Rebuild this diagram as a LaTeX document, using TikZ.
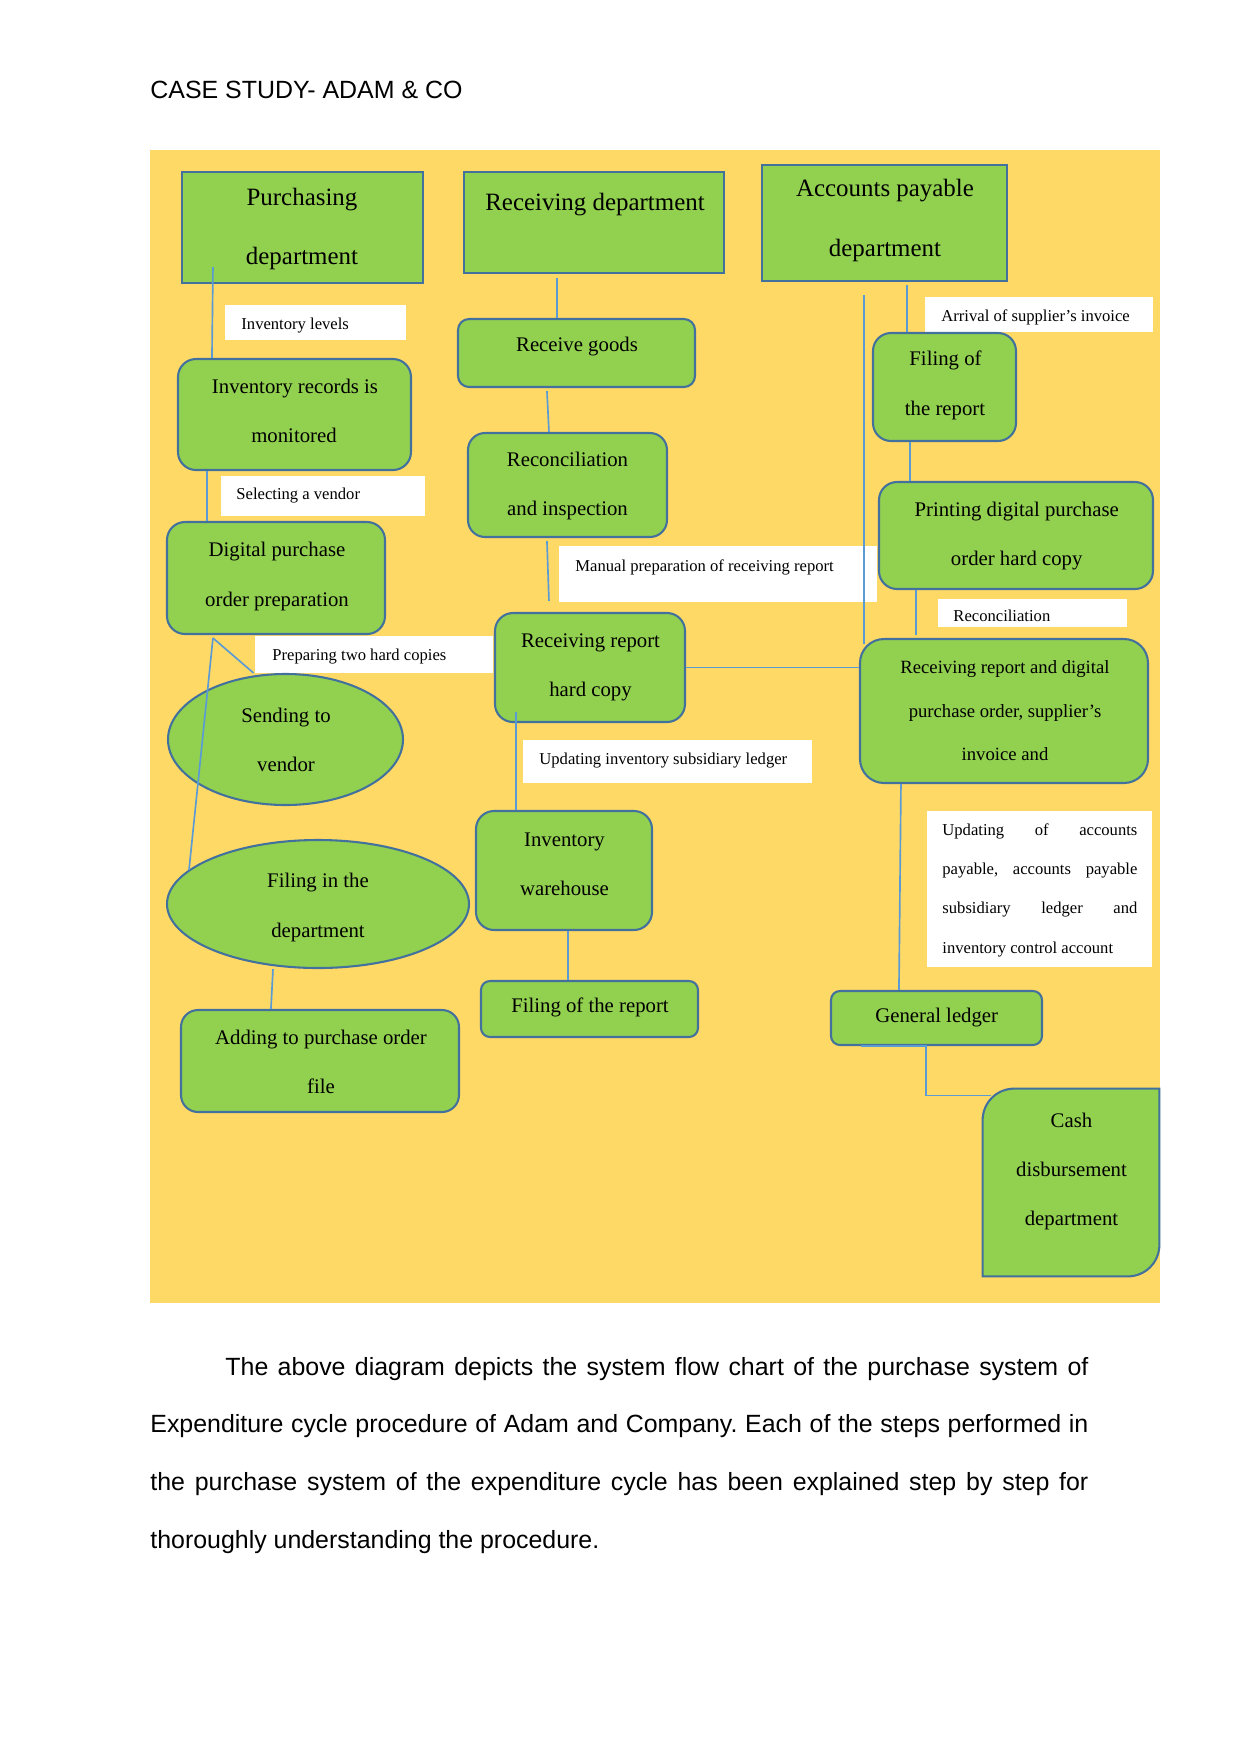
\documentclass[tikz,border=0pt]{standalone}
\usepackage{fontspec}
\setmainfont{Liberation Serif}
\newfontfamily\arialf{Liberation Sans}
\usetikzlibrary{fit,calc,shapes.geometric}
\newlength{\PXu}\setlength{\PXu}{0.4815pt}
\definecolor{bgyellow}{HTML}{FFD966}
\definecolor{boxgreen}{HTML}{92D050}
\definecolor{boxline}{HTML}{41719C}
\definecolor{connline}{HTML}{5B9BD5}
\frenchspacing
\begin{document}
\begin{tikzpicture}[x=0.4815pt,y=-0.4815pt,
  box/.style={draw=boxline,line width=1pt,fill=boxgreen,inner sep=0pt},
  rbox/.style={box,rounded corners=#1},
  ebox/.style={box,ellipse},
  lab/.style={fill=white,inner sep=0pt},
  conn/.style={draw=connline,line width=0.8pt},
  tA/.style={font=\fontsize{12}{14}\selectfont,inner sep=0pt,anchor=base},
  tB/.style={font=\fontsize{10}{12}\selectfont,inner sep=0pt,anchor=base},
  tC/.style={font=\fontsize{9}{11}\selectfont,inner sep=0pt,anchor=base},
  tL/.style={font=\fontsize{8}{10}\selectfont,inner sep=0pt,anchor=base west},
  para/.style={font=\arialf\fontsize{12}{14}\selectfont,inner sep=0pt,anchor=base west}]
\useasboundingbox (0,0) rectangle (1241,1754);
\fill[white] (0,0) rectangle (1241,1754);
\node[para] (hdr) at (150,98.5) {CASE STUDY- ADAM \& CO};
\fill[bgyellow] (150,150) rectangle (1160,1303);

% labels
\node[lab,fit={(225,305) (406,340)}] (l1) {};
\node[tL] (l1t) at (241,329) {Inventory levels};
\node[lab,fit={(221,476) (425,516)}] (l2) {};
\node[tL] (l2t) at (236,499) {Selecting a vendor};
\node[lab,fit={(255,636) (493,673)}] (l3) {};
\node[tL] (l3t) at (272,660) {Preparing two hard copies};
\node[lab,fit={(559,546) (877,602)}] (l4) {};
\node[tL] (l4t) at (575,571) {Manual preparation of receiving report};
\node[lab,fit={(523,740) (812,783)}] (l5) {};
\node[tL] (l5t) at (539,764) {Updating inventory subsidiary ledger};
\node[lab,fit={(925,297) (1153,332)}] (l6) {};
\node[tL] (l6t) at (941,321) {Arrival of supplier’s invoice};
\node[lab,fit={(938,599) (1127,627)}] (l7) {};
\node[tL] (l7t) at (953,621) {Reconciliation};
\node[lab,fit={(927,811) (1152,967)}] (l8) {};
\node[tL] (l8a) at (942,835) {\makebox[195\PXu][s]{Updating of accounts}};
\node[tL] (l8b) at (942,874) {\makebox[195\PXu][s]{payable, accounts payable}};
\node[tL] (l8c) at (942,913) {\makebox[195\PXu][s]{subsidiary ledger and}};
\node[tL] (l8d) at (942,953) {inventory control account};

% purchasing column
\node[box,fit={(182,172) (423,283)}] (pd) {};
\node[tA] (pdt1) at (302,205) {Purchasing};
\node[tA] (pdt2) at (302,264) {department};
\node[rbox=8.67pt,fit={(178,359) (411,470)}] (ir) {};
\node[tB] (irt1) at (295,393.5) {Inventory records is};
\node[tB] (irt2) at (294,442.5) {monitored};
\node[rbox=8.67pt,fit={(167,522) (385,634)}] (dp) {};
\node[tB] (dpt1) at (277,556.5) {Digital purchase};
\node[tB] (dpt2) at (277,606.5) {order preparation};
\node[ebox,minimum width=113.15pt,minimum height=63.08pt] (sv) at (285.5,739.5) {};
\node[tB] (svt1) at (286,722.5) {Sending to};
\node[tB] (svt2) at (286,771.5) {vendor};
\node[ebox,minimum width=145.41pt,minimum height=61.63pt] (fd) at (318,904) {};
\node[tB] (fdt1) at (318,887.5) {Filing in the};
\node[tB] (fdt2) at (318,937.5) {department};
\node[rbox=8.19pt,fit={(181,1010) (459,1112)}] (ad) {};
\node[tB] (adt1) at (321,1044.5) {Adding to purchase order};
\node[tB] (adt2) at (321,1093.5) {file};

% receiving column
\node[box,fit={(464,172) (724,273)}] (rd) {};
\node[tA] (rdt) at (595,210) {Receiving department};
\node[rbox=5.3pt,fit={(458,319) (695,387)}] (rg) {};
\node[tB] (rgt) at (577,351.5) {Receive goods};
\node[rbox=8.19pt,fit={(468,433) (667,537)}] (ri) {};
\node[tB] (rit1) at (567.5,466.5) {Reconciliation};
\node[tB] (rit2) at (567.5,515.5) {and inspection};
\node[rbox=8.67pt,fit={(495,613) (685,722)}] (rr) {};
\node[tB] (rrt1) at (590.5,647.5) {Receiving report};
\node[tB] (rrt2) at (590.5,696.5) {hard copy};
\node[rbox=8.67pt,fit={(476,811) (652,930)}] (iw) {};
\node[tB] (iwt1) at (564.5,846.5) {Inventory};
\node[tB] (iwt2) at (564.5,895.5) {warehouse};
\node[rbox=4.33pt,fit={(481,981) (698,1037)}] (fr) {};
\node[tB] (frt) at (590,1012.5) {Filing of the report};

% accounts payable column
\node[box,fit={(762,165) (1007,281)}] (ap) {};
\node[tA] (apt1) at (885,196) {Accounts payable};
\node[tA] (apt2) at (885,256) {department};
\node[rbox=8.67pt,fit={(873,333) (1016,441)}] (fo) {};
\node[tB] (fot1) at (945.5,365.5) {Filing of};
\node[tB] (fot2) at (945,415.5) {the report};
\node[rbox=8.67pt,fit={(879,482) (1153,589)}] (pr) {};
\node[tB] (prt1) at (1016.7,516.5) {Printing digital purchase};
\node[tB] (prt2) at (1016.7,565.5) {order hard copy};
\node[rbox=11.56pt,fit={(860,639) (1148,783)}] (rb) {};
\node[tC] (rbt1) at (1005,673.7) {Receiving report and digital};
\node[tC] (rbt2) at (1005,717.7) {purchase order, supplier’s};
\node[tC] (rbt3) at (1005,760.7) {invoice and};
\node[rbox=4.33pt,fit={(831,991) (1042,1045)}] (gl) {};
\node[tB] (glt) at (936.7,1022.5) {General ledger};
\node[inner sep=0pt,fit={(983,1089) (1159,1276)}] (cash) {};
\draw[draw=boxline,line width=1pt,fill=boxgreen]
  (cash.south west) -- ($(cash.north west)+(0,32)$)
  .. controls ($(cash.north west)+(0,14)$) and ($(cash.north west)+(14,0)$) .. ($(cash.north west)+(32,0)$)
  -- (cash.north east) -- ($(cash.south east)+(0,-32)$)
  .. controls ($(cash.south east)+(0,-14)$) and ($(cash.south east)+(-14,0)$) .. ($(cash.south east)+(-32,0)$) -- cycle;
\node[tB] (casht1) at (1071.5,1127.5) {Cash};
\node[tB] (casht2) at (1071.5,1176.5) {disbursement};
\node[tB] (casht3) at (1071.5,1225.5) {department};

% connectors
\draw[conn] ($(pd.south west)+(32,-17)$) -- ($(ir.north west)+(35,0)$);
\draw[conn] ($(ir.south west)+(30,0)$) -- ($(dp.north west)+(41,0)$);
\draw[conn] ($(dp.south west)+(47,3)$) -- ($(sv.north)+(-32,0)$);
\draw[conn] ($(dp.south west)+(47,3)$) -- ($(fd.center)+(-129,-34)$);
\draw[conn] ($(fd.south)+(-45,0)$) -- ($(ad.north west)+(91,0)$);
\draw[conn] ($(rd.south west)+(94,4)$) -- ($(rg.north west)+(100,0)$);
\draw[conn] ($(rg.south west)+(90,3)$) -- ($(ri.north west)+(82,0)$);
\draw[conn] ($(ri.south west)+(80,3)$) -- ($(rr.north west)+(55,-11)$);
\draw[conn] ($(rr.south west)+(22,-11)$) -- ($(iw.north west)+(41,0)$);
\draw[conn] ($(iw.south west)+(93,0)$) -- ($(fr.north west)+(88,0)$);
\draw[conn] (rr.east) -- (rr.east -| rb.west);
\draw[conn] ($(ap.south west)+(146,3)$) -- ($(fo.north west)+(35,0)$);
\draw[conn] ($(fo.south west)+(38,0)$) -- ($(pr.north west)+(32,0)$);
\draw[conn] ($(pr.south west)+(38,0)$) -- ($(rb.north west)+(57,-3)$);
\draw[conn] ($(ap.south west)+(103,13)$) -- ($(rb.north west)+(5,6)$);
\draw[conn] ($(rb.south west)+(42,0)$) -- ($(gl.north west)+(69,0)$);
\draw[conn] ($(gl.south west)+(31,0)$) -- ($(gl.south west)+(96,0)$) |- ($(cash.north west)+(8,7)$);

% paragraph
\node[para] (p1) at (225,1375) {\makebox[863\PXu][s]{The above diagram depicts the system flow chart of the purchase system of}};
\node[para] (p2) at (150,1432) {\makebox[938\PXu][s]{Expenditure cycle procedure of Adam and Company. Each of the steps performed in}};
\node[para] (p3) at (150,1490) {\makebox[938\PXu][s]{the purchase system of the expenditure cycle has been explained step by step for}};
\node[para] (p4) at (150,1548) {thoroughly understanding the procedure.};
\end{tikzpicture}
\end{document}
